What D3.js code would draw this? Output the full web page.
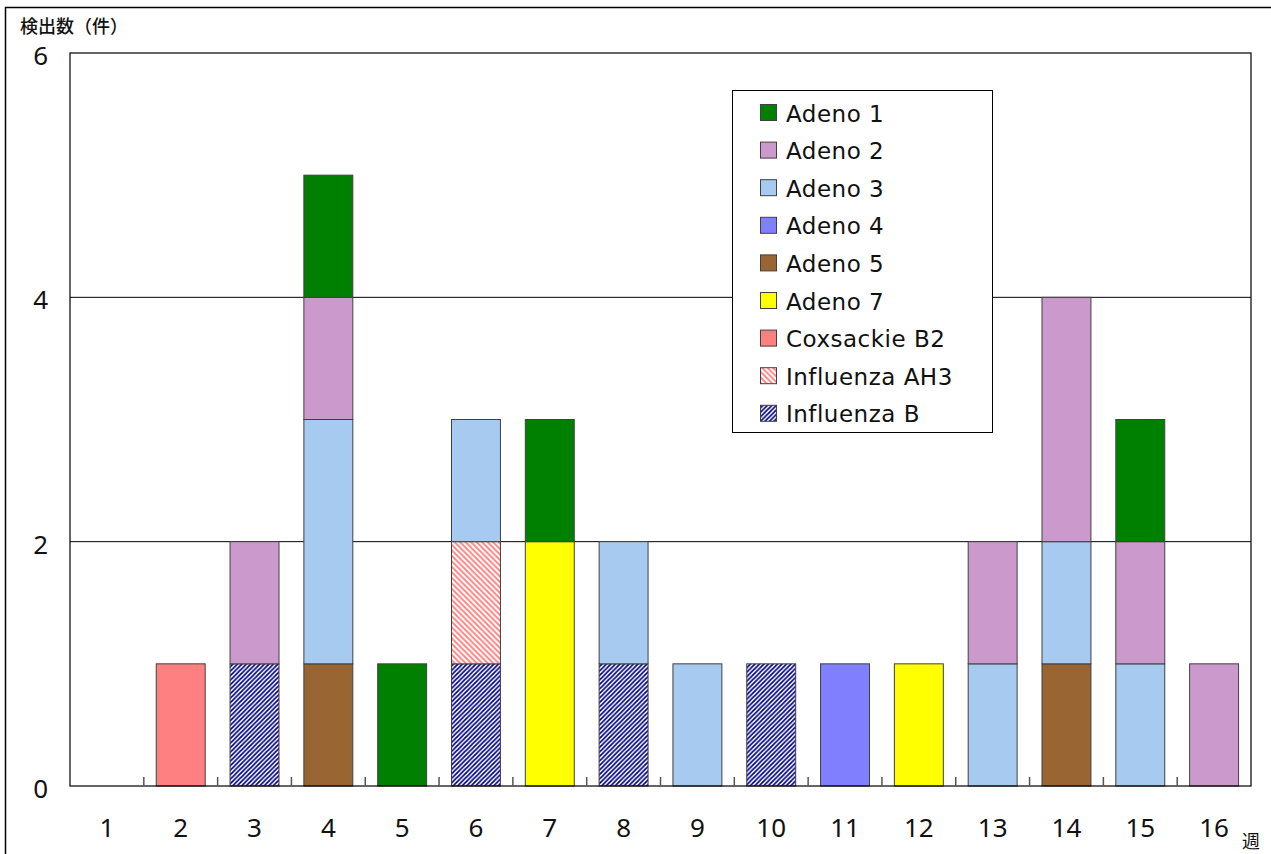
<!DOCTYPE html>
<html>
<head>
<meta charset="utf-8">
<script src="https://cdn.jsdelivr.net/npm/d3@7"></script>
<style>
  html, body { margin: 0; padding: 0; background: #fff; }
  text { font-family: "Noto Sans", "Noto Sans CJK JP", sans-serif; fill: #111; }
  .item text { font-family: "DejaVu Sans", sans-serif; }
</style>
</head>
<body>
<svg id="chart" width="1271" height="854"></svg>
<script>
const weeks = ["1","2","3","4","5","6","7","8","9","10","11","12","13","14","15","16"];
const yTicks = [0, 2, 4, 6];

// legend order (top of legend first)
const seriesNames = ["Adeno 1","Adeno 2","Adeno 3","Adeno 4","Adeno 5","Adeno 7","Coxsackie B2","Influenza AH3","Influenza B"];

const adeno1       = [0,0,0,1,1,0,1,0,0,0,0,0,0,0,1,0];
const adeno2       = [0,0,1,1,0,0,0,0,0,0,0,0,1,2,1,1];
const adeno3       = [0,0,0,2,0,1,0,1,1,0,0,0,1,1,1,0];
const adeno4       = [0,0,0,0,0,0,0,0,0,0,1,0,0,0,0,0];
const adeno5       = [0,0,0,1,0,0,0,0,0,0,0,0,0,1,0,0];
const adeno7       = [0,0,0,0,0,0,2,0,0,0,0,1,0,0,0,0];
const coxsackieB2  = [0,1,0,0,0,0,0,0,0,0,0,0,0,0,0,0];
const influenzaAH3 = [0,0,0,0,0,1,0,0,0,0,0,0,0,0,0,0];
const influenzaB   = [0,0,1,0,0,1,0,1,0,1,0,0,0,0,0,0];

const seriesValues = [adeno1, adeno2, adeno3, adeno4, adeno5, adeno7, coxsackieB2, influenzaAH3, influenzaB];

const fills = {
  "Adeno 1": "#008000",
  "Adeno 2": "#cc99cc",
  "Adeno 3": "#a6caf0",
  "Adeno 4": "#8080ff",
  "Adeno 5": "#996633",
  "Adeno 7": "#ffff00",
  "Coxsackie B2": "#ff8080",
  "Influenza AH3": "url(#hatch-ah3)",
  "Influenza B": "url(#hatch-b)"
};

const margin = {top: 53, right: 20, bottom: 68, left: 70};
const width = 1271, height = 854;
const plotW = width - margin.left - margin.right;
const plotH = height - margin.top - margin.bottom;

const svg = d3.select('#chart');

// hatch patterns
const defs = svg.append('defs');
defs.append('pattern')
    .attr('id', 'hatch-b')
    .attr('patternUnits', 'userSpaceOnUse')
    .attr('width', 4.5).attr('height', 4.5)
    .call(p => {
      p.append('rect').attr('width', 4.5).attr('height', 4.5).attr('fill', '#fff');
      p.append('path')
        .attr('d', 'M0,4.5 L4.5,0 M-1,1 L1,-1 M3.5,5.5 L5.5,3.5')
        .attr('stroke', '#000080').attr('stroke-width', 1.7);
    });
defs.append('pattern')
    .attr('id', 'hatch-ah3')
    .attr('patternUnits', 'userSpaceOnUse')
    .attr('width', 5.5).attr('height', 5.5)
    .call(p => {
      p.append('rect').attr('width', 5.5).attr('height', 5.5).attr('fill', '#fff');
      p.append('path')
        .attr('d', 'M0,0 L5.5,5.5 M-1,4.5 L1,6.5 M4.5,-1 L6.5,1')
        .attr('stroke', '#ff8080').attr('stroke-width', 1.8);
    });

// outer frame
svg.append('rect')
    .attr('x', 5.5).attr('y', 7.5)
    .attr('width', width + 20).attr('height', height + 20)
    .attr('fill', 'none').attr('stroke', '#000').attr('stroke-width', 1.5);

const g = svg.append('g')
    .attr('transform', `translate(${margin.left},${margin.top})`);

const x = d3.scaleBand()
    .domain(weeks)
    .range([0, plotW])
    .paddingInner(0.337)
    .paddingOuter(0.337 / 2);

const y = d3.scaleLinear()
    .domain([0, 6])
    .range([plotH, 0]);

// gridlines
g.selectAll('.grid')
    .data(yTicks.filter(d => d > 0 && d < 6))
    .join('line')
    .attr('class', 'grid')
    .attr('x1', 0).attr('x2', plotW)
    .attr('y1', d => y(d)).attr('y2', d => y(d))
    .attr('stroke', '#000').attr('stroke-width', 1);

// stacked bars, bottom = last legend entry
const rows = weeks.map((w, i) => {
  const r = {week: w};
  seriesNames.forEach((s, k) => r[s] = seriesValues[k][i]);
  return r;
});
const stack = d3.stack().keys(seriesNames.slice().reverse());
const layers = stack(rows);

g.selectAll('.layer')
    .data(layers)
    .join('g')
    .attr('class', 'layer')
    .attr('fill', d => fills[d.key])
    .selectAll('rect')
    .data(d => d.filter(v => v[1] - v[0] > 0))
    .join('rect')
    .attr('x', d => x(d.data.week))
    .attr('width', x.bandwidth())
    .attr('y', d => y(d[1]))
    .attr('height', d => y(d[0]) - y(d[1]))
    .attr('stroke', '#404040')
    .attr('stroke-width', 1);

// plot frame
g.append('rect')
    .attr('x', 0).attr('y', 0)
    .attr('width', plotW).attr('height', plotH)
    .attr('fill', 'none').attr('stroke', '#000').attr('stroke-width', 1.2);

// x ticks at category boundaries, pointing up
const boundary = d => x(d) - x.step() * x.paddingInner() / 2;
g.selectAll('.xtick')
    .data(weeks.slice(1))
    .join('line')
    .attr('class', 'xtick')
    .attr('x1', boundary)
    .attr('x2', boundary)
    .attr('y1', plotH).attr('y2', plotH - 9)
    .attr('stroke', '#555').attr('stroke-width', 1.5);

// x labels
g.selectAll('.xlabel')
    .data(weeks)
    .join('text')
    .attr('class', 'xlabel')
    .attr('x', d => x(d) + x.bandwidth() / 2)
    .attr('y', plotH + 51)
    .attr('text-anchor', 'middle')
    .attr('font-size', 26)
    .text(d => d);

// y labels
g.selectAll('.ylabel')
    .data(yTicks)
    .join('text')
    .attr('class', 'ylabel')
    .attr('x', -22)
    .attr('y', d => y(d) + 12)
    .attr('text-anchor', 'end')
    .attr('font-size', 26)
    .text(d => d);

// axis titles
svg.append('text')
    .attr('x', 20).attr('y', 33)
    .attr('font-size', 18)
    .attr('font-weight', 500)
    .text('検出数（件）');

svg.append('text')
    .attr('x', 1242).attr('y', 848)
    .attr('font-size', 18)
    .text('週');

// legend
const legend = svg.append('g')
    .attr('transform', 'translate(732,90)');

legend.append('rect')
    .attr('x', 0.5).attr('y', 0.5)
    .attr('width', 260).attr('height', 342)
    .attr('fill', '#fff').attr('stroke', '#000').attr('stroke-width', 1);

const items = legend.selectAll('.item')
    .data(seriesNames)
    .join('g')
    .attr('class', 'item')
    .attr('transform', (d, i) => `translate(0,${23 + i * 37.6})`);

items.append('rect')
    .attr('x', 28.5).attr('y', -8.5)
    .attr('width', 16).attr('height', 16)
    .attr('fill', d => fills[d])
    .attr('stroke', '#404040').attr('stroke-width', 1);

items.append('text')
    .attr('x', 54).attr('y', 8.5)
    .attr('font-size', 23)
    .attr('letter-spacing', 0.5)
    .text(d => d);
</script>
</body>
</html>
